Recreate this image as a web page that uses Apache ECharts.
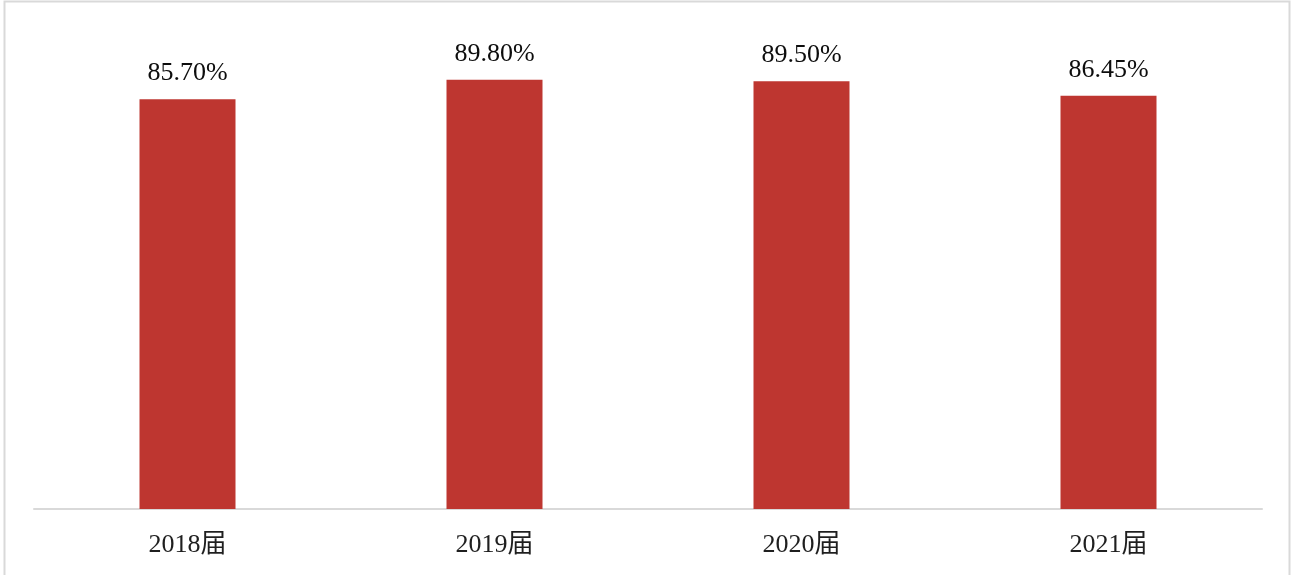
<!DOCTYPE html>
<html>
<head>
<meta charset="utf-8">
<script src="https://cdn.jsdelivr.net/npm/echarts@6/dist/echarts.min.js"></script>
<style>
  html, body { margin: 0; padding: 0; background: #ffffff; }
  #chart { width: 1291px; height: 575px; }
</style>
</head>
<body>
<div id="chart"></div>
<script>
// Graduate rate by cohort
const categories = ['2018届', '2019届', '2020届', '2021届'];
const rates = [85.70, 89.80, 89.50, 86.45];

const chart = echarts.init(document.getElementById('chart'), null, { renderer: 'canvas' });

chart.setOption({
  backgroundColor: '#ffffff',
  animation: false,
  graphic: [{
    type: 'rect',
    shape: { x: 4.5, y: 1.5, width: 1285, height: 600 },
    style: { fill: 'none', stroke: '#d9d9d9', lineWidth: 2 },
    silent: true
  }],
  grid: { left: 34, right: 29, top: 31, bottom: 66 },
  xAxis: {
    type: 'category',
    data: categories,
    axisLine: { lineStyle: { color: '#d9d9d9', width: 2 } },
    axisTick: { show: false },
    axisLabel: {
      margin: 23,
      color: '#1f1f1f',
      fontSize: 26,
      fontFamily: '"Liberation Serif", "Noto Sans CJK SC", serif'
    }
  },
  yAxis: {
    type: 'value',
    min: 0,
    max: 100,
    show: false,
    splitLine: { show: false }
  },
  series: [{
    type: 'bar',
    data: rates,
    barWidth: 96,
    itemStyle: { color: '#be3630' },
    label: {
      show: true,
      position: 'top',
      distance: 13,
      color: '#0d0d0d',
      fontSize: 26,
      fontFamily: '"Liberation Serif", "Times New Roman", serif',
      formatter: p => p.value.toFixed(2) + '%'
    }
  }]
});
</script>
</body>
</html>
